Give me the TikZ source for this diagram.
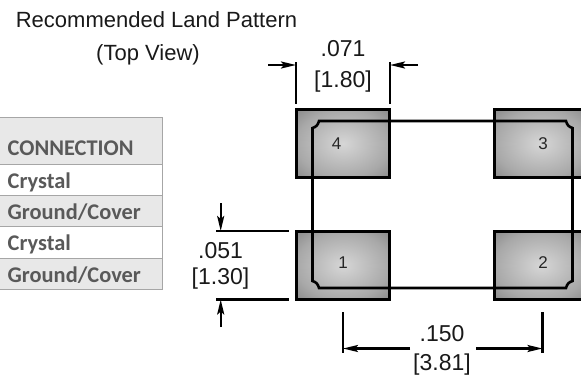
\documentclass[tikz,border=0pt]{standalone}
\usepackage{fontspec}
\setmainfont{Liberation Sans}
\newfontfamily\tablefont{Carlito}
\usetikzlibrary{arrows.meta}
\definecolor{padin}{gray}{0.84}
\definecolor{padmid}{gray}{0.66}
\definecolor{padedge}{gray}{0.38}
\definecolor{padcorner}{gray}{0.20}
\pgfdeclareradialshading{padshade}{\pgfpoint{0bp}{0bp}}{color(0bp)=(padin); color(25bp)=(padmid); color(50bp)=(padedge); color(70.7bp)=(padcorner)}
\tikzset{
  padbox/.style={draw=black,line width=3pt,rectangle,inner sep=0pt,minimum width=93pt,minimum height=68pt,shading=padshade},
  padnum/.style={inner sep=0pt,font=\fontsize{17}{20}\selectfont,text=black!85},
  dimtext/.style={anchor=base,inner sep=0pt,font=\fontsize{23}{26}\selectfont,text=black!90},
  titletext/.style={anchor=base,inner sep=0pt,font=\fontsize{22}{25}\selectfont,text=black!90},
  dimline/.style={line width=2.3pt},
  dimarrow/.style={line width=2.3pt,-{Stealth[length=15pt,width=7pt,inset=3pt]}},
  headcell/.style={draw=gray!70,line width=1pt,fill=black!9,rectangle,minimum width=166pt,minimum height=46.5pt,inner sep=0pt},
  rowcell/.style={draw=gray!70,line width=1pt,rectangle,minimum width=166pt,minimum height=31.2pt,inner sep=0pt},
  celltext/.style={anchor=base west,inner sep=0pt,text=black!65,font=\tablefont\bfseries\fontsize{22.4}{25}\selectfont}
}
\begin{document}
\begin{tikzpicture}[x=1pt,y=-1pt]
\useasboundingbox (0,0) rectangle (581,381);
\begin{scope}
\clip (0,0) rectangle (581,381);
% table
\node[headcell] (head) at (79,141.2) {};
\node[rowcell] (row1) at (79,180.1) {};
\node[rowcell,fill=black!9] (row2) at (79,211.3) {};
\node[rowcell] (row3) at (79,242.5) {};
\node[rowcell,fill=black!9] (row4) at (79,273.7) {};
\node[celltext] (headtext) at (7.5,155) {CONNECTION};
\node[celltext] (text1) at (7.5,188) {Crystal};
\node[celltext] (text2) at (7.5,219) {Ground/Cover};
\node[celltext] (text3) at (7.5,250) {Crystal};
\node[celltext] (text4) at (7.5,282) {Ground/Cover};
% pads
\node[padbox] (pad4) at (343,143.5) {};
\node[padbox] (pad3) at (541,143.5) {};
\node[padbox] (pad1) at (343,265.5) {};
\node[padbox] (pad2) at (541,265.5) {};
% outline of the package
\draw[line width=2.6pt] (312.5,128) .. controls (316,127) and (318,125) .. (319,121)
  -- (566,121) .. controls (567,125) and (569,127) .. (572.5,128)
  -- (572.5,281) .. controls (569,282) and (567,284) .. (566,288)
  -- (319,288) .. controls (318,284) and (316,282) .. (312.5,281) -- cycle;
\end{scope}
\node[padnum] (num4) at (336.5,144) {4};
\node[padnum] (num3) at (543,144) {3};
\node[padnum] (num1) at (343,263) {1};
\node[padnum] (num2) at (543,263) {2};
% titles
\node[titletext] (title) at (156.5,27.5) {Recommended Land Pattern};
\node[titletext] (view) at (148,60) {(Top View)};
% top dimension
\node[dimtext] (topin) at (343,56.7) {.071};
\node[dimtext] (topmm) at (343,87.7) {[1.80]};
\coordinate (t1) at (296,62);
\coordinate (t2) at (296,104);
\coordinate (t3) at (390,62);
\coordinate (t4) at (390,104);
\coordinate (t5) at (268,65);
\coordinate (t6) at (418,65);
\draw[dimline] (t1) -- (t2);
\draw[dimline] (t3) -- (t4);
\draw[dimarrow] (t5) -- (t5 -| t1);
\draw[dimarrow] (t6) -- (t6 -| t3);
% left dimension
\node[dimtext] (leftin) at (220.5,258) {.051};
\node[dimtext] (leftmm) at (220.5,284.5) {[1.30]};
\coordinate (l1) at (216,231);
\coordinate (l2) at (289,231);
\coordinate (l3) at (216,299.5);
\coordinate (l4) at (289,299.5);
\coordinate (l5) at (220.7,203);
\coordinate (l6) at (220.7,327);
\draw[dimline] (l1) -- (l2);
\draw[dimline] (l3) -- (l4);
\draw[dimarrow] (l5) -- (l5 |- l1);
\draw[dimarrow] (l6) -- (l6 |- l3);
% bottom dimension
\node[dimtext] (botin) at (442,341.7) {.150};
\node[dimtext] (botmm) at (442,370) {[3.81]};
\coordinate (b1) at (343,312);
\coordinate (b2) at (343,352.5);
\coordinate (b3) at (542.5,312);
\coordinate (b4) at (542.5,352.5);
\coordinate (b5) at (410,348.5);
\coordinate (b6) at (476,348.5);
\draw[dimline] (b1) -- (b2);
\draw[dimline] (b3) -- (b4);
\draw[dimarrow] (b5) -- (b5 -| b1);
\draw[dimarrow] (b6) -- (b6 -| b3);
\end{tikzpicture}
\end{document}
